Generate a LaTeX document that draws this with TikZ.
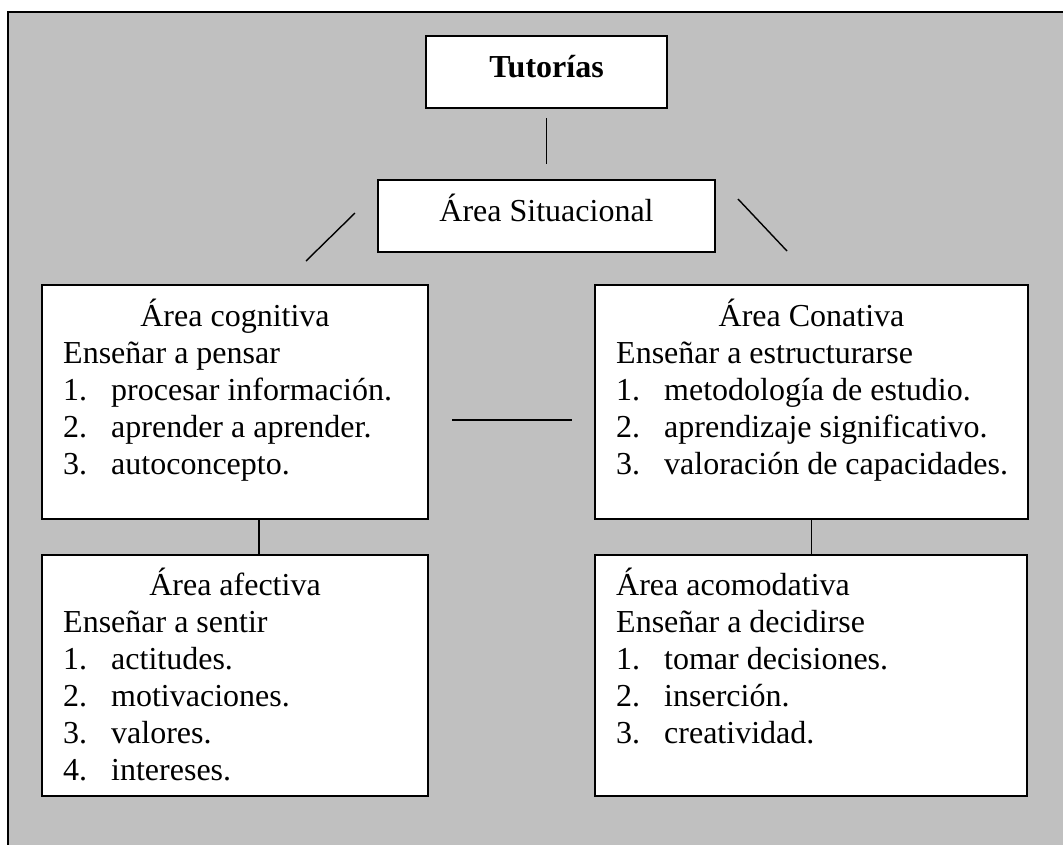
\documentclass[tikz,border=0pt]{standalone}
\usepackage{fontspec}
\setmainfont{Liberation Serif}
\definecolor{panel}{RGB}{192,192,192}
% fixed-width slot for the list numbers
\newcommand\listno[1]{\makebox[48pt][l]{#1}}
\begin{document}
\begin{tikzpicture}[x=1pt,y=-1pt,
  box/.style={draw=black, fill=white, line width=2pt, inner sep=0pt},
  link/.style={draw=black, line width=1.4pt},
  head/.style={anchor=base, inner sep=0pt, font=\fontsize{32}{37}\selectfont},
  line/.style={anchor=base west, inner sep=0pt, font=\fontsize{32}{37}\selectfont}]
\useasboundingbox (0,0) rectangle (1063,844);
\clip (0,0) rectangle (1063,844);

% grey panel behind the chart
\draw[fill=panel, line width=2.2pt] (8,12) rectangle (1080,860);

% boxes
\node[box, minimum width=241, minimum height=72] (tut) at (546.5,72) {};
\node[box, minimum width=337, minimum height=72] (sit) at (546.5,216) {};
\node[box, minimum width=386, minimum height=234] (cog) at (235,402) {};
\node[box, minimum width=433, minimum height=234] (con) at (811.5,402) {};
\node[box, minimum width=386, minimum height=241] (afe) at (235,675.5) {};
\node[box, minimum width=432, minimum height=241] (aco) at (811,675.5) {};

% connectors
\draw[link] ([yshift=-9pt]tut.south) -- ([yshift=15pt]sit.north);
\coordinate (sl-a) at (355,213);
\coordinate (sl-b) at (306,261);
\coordinate (sr-a) at (738,199);
\coordinate (sr-b) at (787,251);
\coordinate (mid-a) at (452,420);
\coordinate (mid-b) at (572,420);
\draw[link] (sl-a) -- (sl-b);
\draw[link] (sr-a) -- (sr-b);
\draw[link] (mid-a) -- (mid-b);
\draw[link] ([xshift=24pt]cog.south) -- ([xshift=24pt]afe.north);
\draw[link] (con.south) -- (con.south |- aco.north);

% texts
\node[head, font=\fontsize{32}{37}\selectfont\bfseries] (tut-t) at (546.5,77) {Tutorías};
\node[head] (sit-t) at (546.5,221) {Área Situacional};

\node[head] (cog-t) at (235,326) {Área cognitiva};
\node[line] (cog-1) at (63,363) {Enseñar a pensar};
\node[line] (cog-2) at (63,400) {\listno{1.}procesar información.};
\node[line] (cog-3) at (63,437) {\listno{2.}aprender a aprender.};
\node[line] (cog-4) at (63,474) {\listno{3.}autoconcepto.};

\node[head] (con-t) at (811.5,326) {Área Conativa};
\node[line] (con-1) at (616,363) {Enseñar a estructurarse};
\node[line] (con-2) at (616,400) {\listno{1.}metodología de estudio.};
\node[line] (con-3) at (616,437) {\listno{2.}aprendizaje significativo.};
\node[line] (con-4) at (616,474) {\listno{3.}valoración de capacidades.};

\node[head] (afe-t) at (235,595) {Área afectiva};
\node[line] (afe-1) at (63,632) {Enseñar a sentir};
\node[line] (afe-2) at (63,669) {\listno{1.}actitudes.};
\node[line] (afe-3) at (63,706) {\listno{2.}motivaciones.};
\node[line] (afe-4) at (63,743) {\listno{3.}valores.};
\node[line] (afe-5) at (63,780) {\listno{4.}intereses.};

\node[line] (aco-t) at (616,595) {Área acomodativa};
\node[line] (aco-1) at (616,632) {Enseñar a decidirse};
\node[line] (aco-2) at (616,669) {\listno{1.}tomar decisiones.};
\node[line] (aco-3) at (616,706) {\listno{2.}inserción.};
\node[line] (aco-4) at (616,743) {\listno{3.}creatividad.};
\end{tikzpicture}
\end{document}
